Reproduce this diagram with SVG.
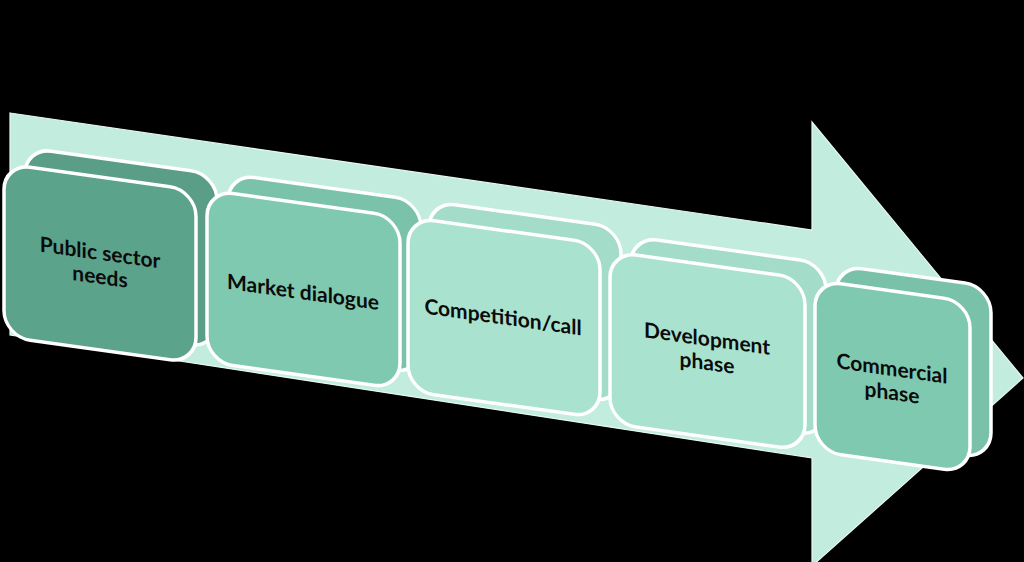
<svg xmlns="http://www.w3.org/2000/svg" width="1024" height="562" viewBox="0 0 1024 562">
  <style>
    .bx { stroke: #FFFFFF; stroke-width: 3.5; }
    .lbl { font-family: Lato, "Liberation Sans", sans-serif; font-weight: 700; font-size: 21px; fill: #0B0B0B; text-anchor: middle; }
  </style>
  <rect x="0" y="0" width="1024" height="562" fill="#000000"/>
  <g id="arrow">
    <polygon points="10,113 812,230 812,122 1023,378 812,566 812,458 10,335" fill="#C2ECDE" stroke="#E6F8F1" stroke-width="1.2"/>
  </g>
  <g id="connectors"></g>
  <g id="node1" transform="matrix(1,0.14,0,1,0,0)">
    <rect class="bx" x="25" y="144" width="192" height="174" rx="26" fill="#5A9E87"/>
    <rect class="bx" x="4" y="163" width="192" height="173" rx="26" fill="#5BA38B"/>
    <text class="lbl" x="100" y="246">Public sector</text>
    <text class="lbl" x="100" y="270">needs</text>
  </g>
  <g id="node2" transform="matrix(1,0.14,0,1,0,0)">
    <rect class="bx" x="228" y="142" width="193" height="173" rx="26" fill="#7AC3AA"/>
    <rect class="bx" x="207" y="161" width="193" height="172" rx="26" fill="#7FC9B0"/>
    <text class="lbl" x="303" y="257">Market dialogue</text>
  </g>
  <g id="node3" transform="matrix(1,0.14,0,1,0,0)">
    <rect class="bx" x="429" y="141" width="192" height="175" rx="26" fill="#A3DDC9"/>
    <rect class="bx" x="408" y="160" width="192" height="174" rx="26" fill="#A9E3CF"/>
    <text class="lbl" x="503" y="254">Competition/call</text>
  </g>
  <g id="node4" transform="matrix(1,0.14,0,1,0,0)">
    <rect class="bx" x="631" y="148" width="195" height="173" rx="26" fill="#A3DDC9"/>
    <rect class="bx" x="610" y="166" width="195" height="172" rx="26" fill="#A9E3CF"/>
    <text class="lbl" x="707" y="247">Development</text>
    <text class="lbl" x="707" y="271">phase</text>
  </g>
  <g id="node5" transform="matrix(1,0.14,0,1,0,0)">
    <rect class="bx" x="836" y="148" width="155" height="172" rx="26" fill="#79C2A9"/>
    <rect class="bx" x="815" y="166" width="155" height="171" rx="26" fill="#7FC9B0"/>
    <text class="lbl" x="892" y="251">Commercial</text>
    <text class="lbl" x="892" y="275">phase</text>
  </g>
</svg>
